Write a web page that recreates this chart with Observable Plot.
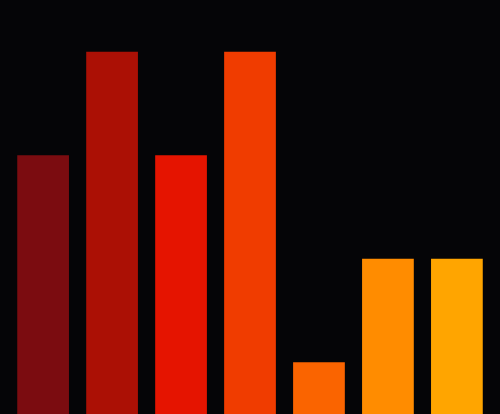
<!DOCTYPE html>
<html>
<head>
<meta charset="utf-8">
<script src="https://cdn.jsdelivr.net/npm/d3@7"></script>
<script src="https://cdn.jsdelivr.net/npm/@observablehq/plot@0.6"></script>
<style>
html,body{margin:0;padding:0;background:#050507;overflow:hidden;}
</style>
</head>
<body>
<div id="chart"></div>
<script>
const categories = ["A","B","C","D","E","F","G"];
const values = [5,7,5,7,1,3,3];
const colors = ["#7b0c10","#ab1005","#e51400","#f03c00","#fa6400","#ff8c00","#ffa500"];
const data = categories.map((c,i)=>({cat:c, value:values[i], color:colors[i]}));
const chart = Plot.plot({
  width: 500,
  height: 414,
  margin: 0,
  style: {background: "#050507"},
  x: {domain: categories, paddingInner: 0.25, paddingOuter: 0.25, round: false, axis: null},
  y: {domain: [0, 8], axis: null},
  marks: [
    Plot.barY(data, {x: "cat", y: "value", fill: "color"})
  ]
});
document.getElementById("chart").appendChild(chart);
</script>
</body>
</html>
